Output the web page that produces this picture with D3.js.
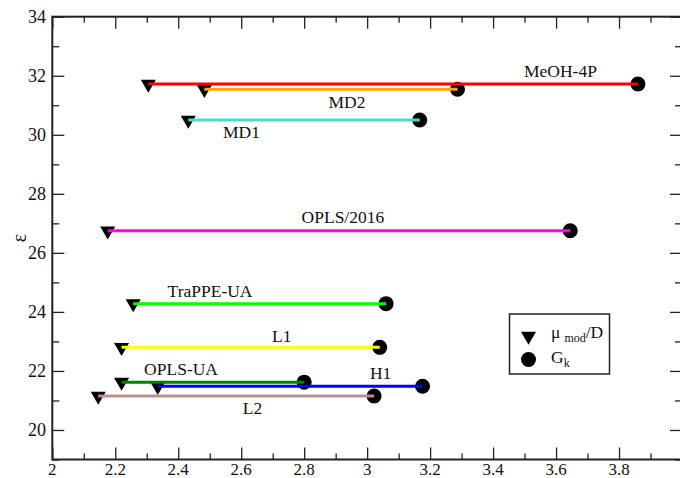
<!DOCTYPE html>
<html>
<head>
<meta charset="utf-8">
<script src="https://cdn.jsdelivr.net/npm/d3@7"></script>
<style>
  body { margin: 0; background: #fff; }
  svg text { font-family: "Liberation Serif", "Times New Roman", Times, serif; }
</style>
</head>
<body>
<div id="chart"></div>
<script>
var w = 680;
var h = 478;

// data
var models = ["MeOH-4P", "MD2", "MD1", "OPLS/2016", "TraPPE-UA", "L1", "OPLS-UA", "H1", "L2"];
var muMod  = [2.305, 2.483, 2.432, 2.176, 2.257, 2.22, 2.22, 2.335, 2.146];
var gk     = [3.86, 3.287, 3.167, 3.645, 3.06, 3.04, 2.80, 3.176, 3.022];
var eps    = [31.72, 31.54, 30.5, 26.75, 24.28, 22.8, 21.62, 21.48, 21.15];
var colors = ["#ff0000", "#ffa500", "#40e0d0", "#ff00ff", "#00ff00", "#ffff00", "#008000", "#0000ff", "#bc8f8f"];

// where the name of each model sits (data units)
var labelX = [3.614, 2.936, 2.601, 2.923, 2.501, 2.729, 2.409, 3.043, 2.636];
var labelY = [31.95, 30.90, 29.88, 27.02, 24.50, 22.99, 21.86, 21.72, 20.54];

var xTicks = [2, 2.2, 2.4, 2.6, 2.8, 3, 3.2, 3.4, 3.6, 3.8];
var yTicks = [20, 22, 24, 26, 28, 30, 32, 34];

var x = d3.scaleLinear().domain([2, 4]).range([52.3, 682]);
var y = d3.scaleLinear().domain([19, 34]).range([459.5, 16.7]);

var svg = d3.select("#chart").append("svg")
  .attr("width", w)
  .attr("height", h);

var axisColor = "#222";

function styleAxis(g) {
  g.select(".domain").remove();
  g.selectAll(".tick line").attr("stroke", axisColor).attr("stroke-width", 1.3);
  g.selectAll("text").remove();
}

var majorX = d3.range(2, 4.01, 0.2);
var minorX = d3.range(2.1, 4, 0.2);
var minorY = d3.range(19, 34.01, 1).filter(function(v) { return v % 2 === 1; });

// bottom
svg.append("g").attr("transform", "translate(0," + y(19) + ")")
  .call(d3.axisBottom(x).tickValues(majorX).tickSizeInner(-12).tickSizeOuter(0)).call(styleAxis);
svg.append("g").attr("transform", "translate(0," + y(19) + ")")
  .call(d3.axisBottom(x).tickValues(minorX).tickSizeInner(-6).tickSizeOuter(0)).call(styleAxis);
// top
svg.append("g").attr("transform", "translate(0," + y(34) + ")")
  .call(d3.axisTop(x).tickValues(majorX).tickSizeInner(-12).tickSizeOuter(0)).call(styleAxis);
svg.append("g").attr("transform", "translate(0," + y(34) + ")")
  .call(d3.axisTop(x).tickValues(minorX).tickSizeInner(-6).tickSizeOuter(0)).call(styleAxis);
// left
svg.append("g").attr("transform", "translate(" + x(2) + ",0)")
  .call(d3.axisLeft(y).tickValues(yTicks).tickSizeInner(-12).tickSizeOuter(0)).call(styleAxis);
svg.append("g").attr("transform", "translate(" + x(2) + ",0)")
  .call(d3.axisLeft(y).tickValues(minorY).tickSizeInner(-7).tickSizeOuter(0)).call(styleAxis);
// right
svg.append("g").attr("transform", "translate(" + x(4) + ",0)")
  .call(d3.axisRight(y).tickValues(yTicks).tickSizeInner(-12).tickSizeOuter(0)).call(styleAxis);
svg.append("g").attr("transform", "translate(" + x(4) + ",0)")
  .call(d3.axisRight(y).tickValues(minorY).tickSizeInner(-7).tickSizeOuter(0)).call(styleAxis);

// frame
svg.append("rect")
  .attr("x", x(2)).attr("y", y(34))
  .attr("width", x(4) - x(2)).attr("height", y(19) - y(34))
  .attr("fill", "none").attr("stroke", axisColor).attr("stroke-width", 2);

// tick labels
svg.selectAll(".xlab").data(xTicks).enter().append("text")
  .attr("class", "xlab")
  .attr("x", function(d) { return x(d); })
  .attr("y", 475)
  .attr("text-anchor", "middle")
  .attr("font-size", 17)
  .attr("fill", "#111")
  .text(function(d) { return d; });

svg.selectAll(".ylab").data(yTicks).enter().append("text")
  .attr("class", "ylab")
  .attr("x", 46)
  .attr("y", function(d) { return y(d) + 6; })
  .attr("text-anchor", "end")
  .attr("font-size", 18)
  .attr("fill", "#111")
  .text(function(d) { return d; });

svg.append("text")
  .attr("transform", "translate(26," + ((y(19) + y(34)) / 2) + ") rotate(-90)")
  .attr("text-anchor", "middle")
  .attr("font-size", 20)
  .attr("fill", "#111")
  .text("ε");

// symbols
var tri = d3.symbol().type(d3.symbolTriangle).size(98);
var rows = models.map(function(m, i) {
  return { name: m, mu: muMod[i], g: gk[i], e: eps[i], color: colors[i], lx: labelX[i], ly: labelY[i] };
});

svg.selectAll(".tri").data(rows).enter().append("path")
  .attr("class", "tri")
  .attr("d", tri)
  .attr("transform", function(d) { return "translate(" + x(d.mu) + "," + y(d.e) + ") rotate(180)"; })
  .attr("fill", "#000");

svg.selectAll(".dot").data(rows).enter().append("circle")
  .attr("class", "dot")
  .attr("cx", function(d) { return x(d.g); })
  .attr("cy", function(d) { return y(d.e); })
  .attr("r", 7.5)
  .attr("fill", "#000");

svg.selectAll(".seg").data(rows).enter().append("line")
  .attr("class", "seg")
  .attr("x1", function(d) { return x(d.mu); })
  .attr("x2", function(d) { return x(d.g); })
  .attr("y1", function(d) { return y(d.e); })
  .attr("y2", function(d) { return y(d.e); })
  .attr("stroke", function(d) { return d.color; })
  .attr("stroke-width", 3);

svg.selectAll(".name").data(rows).enter().append("text")
  .attr("class", "name")
  .attr("x", function(d) { return x(d.lx); })
  .attr("y", function(d) { return y(d.ly); })
  .attr("text-anchor", "middle")
  .attr("font-size", 17.5)
  .attr("fill", "#111")
  .text(function(d) { return d.name; });

// legend
var lg = svg.append("g");
lg.append("rect")
  .attr("x", 509.5).attr("y", 314)
  .attr("width", 100).attr("height", 60)
  .attr("fill", "#fff").attr("stroke", axisColor).attr("stroke-width", 1.5);
lg.append("path")
  .attr("d", tri)
  .attr("transform", "translate(528.5,336) rotate(180)")
  .attr("fill", "#000");
lg.append("circle")
  .attr("cx", 528.5).attr("cy", 359.5).attr("r", 7.5)
  .attr("fill", "#000");
var t1 = lg.append("text").attr("x", 551).attr("y", 338).attr("font-size", 17.5).attr("fill", "#111");
t1.append("tspan").text("μ");
t1.append("tspan").attr("font-size", 12).attr("dx", 4).attr("dy", 4).text("mod");
t1.append("tspan").attr("dy", -4).text("/D");
var t2 = lg.append("text").attr("x", 551).attr("y", 362.5).attr("font-size", 17.5).attr("fill", "#111");
t2.append("tspan").text("G");
t2.append("tspan").attr("font-size", 12).attr("dy", 4).text("k");
</script>
</body>
</html>
